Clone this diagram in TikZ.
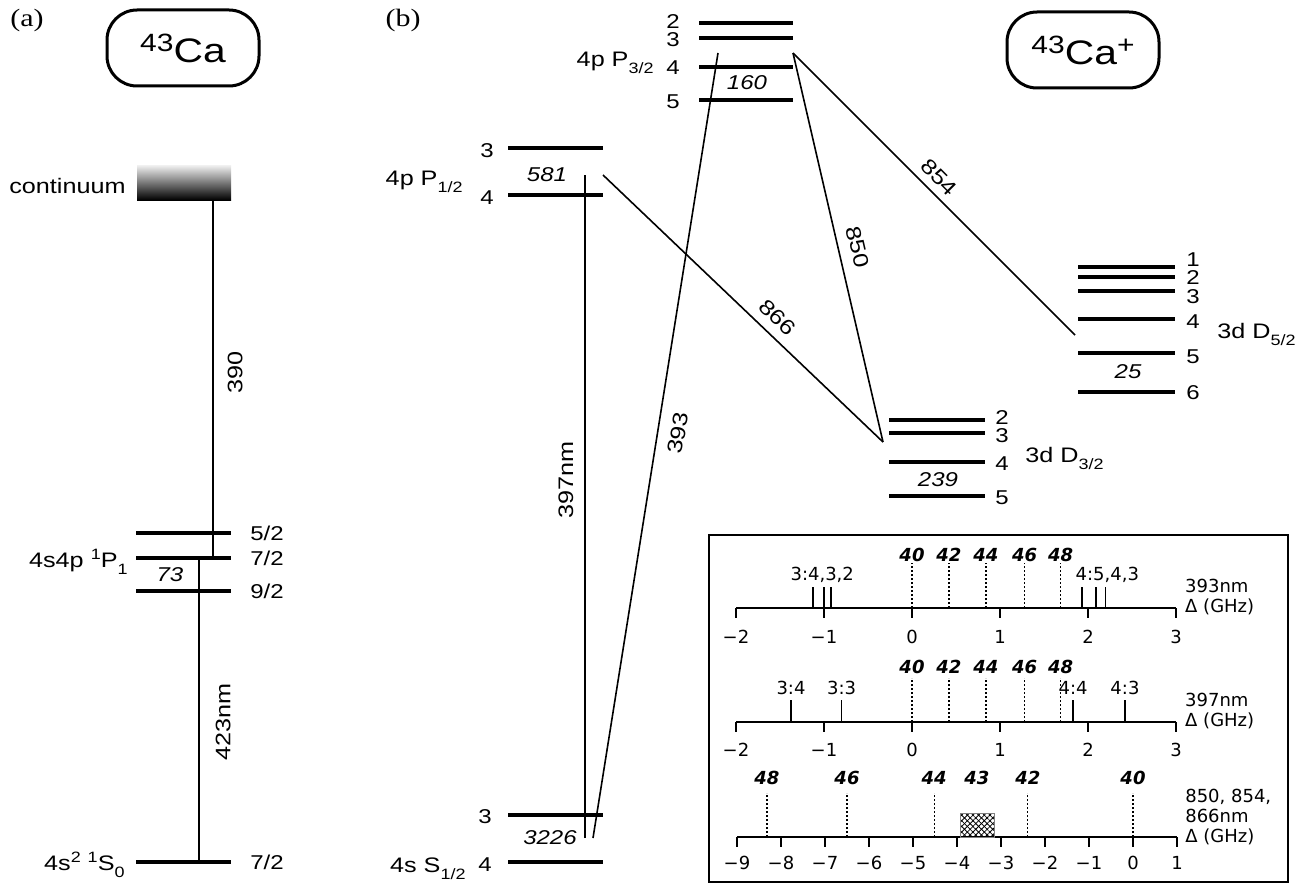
\documentclass[tikz,border=0pt]{standalone}
\usepackage{fontspec}
\setmainfont{Liberation Sans}[FakeStretch=1.2]
\newfontfamily\panelfont{Liberation Serif}[FakeStretch=1.2]
\newfontfamily\insetfont{DejaVu Sans}
\usetikzlibrary{patterns.meta}
\newcommand\lsub[1]{\raisebox{-3.5pt}{\fontsize{7.5}{8}\selectfont #1}}
\newcommand\lsup[1]{\raisebox{4pt}{\fontsize{7.5}{8}\selectfont #1}}
\newcommand\isotope[1]{\raisebox{5.5pt}{\fontsize{12.5}{13}\selectfont #1}}

\begin{document}
\begin{tikzpicture}[x=0.5pt,y=-0.5pt,
        level/.style={line width=2pt},
        trans/.style={line width=0.8pt},
        flab/.style={font=\fontsize{10}{11}\selectfont,inner sep=0pt},
        term/.style={font=\fontsize{10.5}{12}\selectfont,inner sep=0pt},
        hfs/.style={font=\fontsize{10}{12}\selectfont\itshape,inner sep=0pt},
        species/.style={draw,line width=1.5pt,rounded corners=15pt,minimum width=76pt,
            minimum height=38pt,inner sep=0pt,font=\fontsize{17}{19}\selectfont},
        panel/.style={font=\panelfont\fontsize{12.5}{14}\selectfont,inner sep=0pt},
        tick/.style={line width=0.8pt},
        iso/.style={line width=0.6pt,dash pattern=on 1.2pt off 0.8pt},
        isolab/.style={font=\insetfont\fontsize{9}{10}\selectfont\bfseries\itshape,inner sep=0pt},
        inlab/.style={font=\insetfont\fontsize{9}{10}\selectfont,inner sep=0pt,align=left}]
    \useasboundingbox (0,0) rectangle (1307,883);

    % (a) neutral atom
    \node[panel] (pa) at (27,20) {(a)};
    \node[species] (ca) at (183,48) {\isotope{43}Ca};
    \node[inner sep=0pt,minimum width=47pt,minimum height=17pt,
        top color=black!8,bottom color=black] (cont) at (184,183) {};
    \node[term,anchor=east] (contlab) at (126,186) {continuum};
    \foreach \y in {533,558,591,862} \draw[level] (136,\y) -- (231,\y);
    \foreach \y/\f [count=\i] in {533/{5/2},558/{7/2},591/{9/2},862/{7/2}}
        \node[flab,anchor=west] (fa\i) at (250,\y) {\f};
    \node[term,anchor=base east] (p1) at (128,567) {4s4p \lsup{1}P\lsub{1}};
    \node[hfs] (hfa) at (170,575) {73};
    \node[term,anchor=base east] (s0) at (125,870) {4s\lsup{2} \lsup{1}S\lsub{0}};
    \coordinate (c390) at (213,558);
    \coordinate (c423t) at (199,558);
    \coordinate (c423b) at (199,862);
    \draw[trans] (c390) -- node[term,sloped,below=7pt,pos=0.52] (l390) {390} (c390 |- cont.south);
    \draw[trans] (c423b) -- node[term,sloped,below=8pt,pos=0.46] (l423) {423nm} (c423t);

    % (b) ion
    \node[panel] (pb) at (403,20) {(b)};
    \node[species] (caplus) at (1083,50) {\isotope{43}Ca\isotope{+}};
    \foreach \y in {23,38,67,100} \draw[level] (699,\y) -- (793,\y);
    \foreach \y/\f in {22/2,40/3,68/4,102/5} \node[flab] (p32-\f) at (673,\y) {\f};
    \node[term,anchor=base east] (p32) at (654,67) {4p P\lsub{3/2}};
    \node[hfs] (hfp32) at (747,83) {160};
    \foreach \y in {148,195} \draw[level] (508,\y) -- (603,\y);
    \foreach \y/\f in {151/3,198/4} \node[flab] (p12-\f) at (487,\y) {\f};
    \node[term,anchor=base east] (p12) at (463,185) {4p P\lsub{1/2}};
    \node[hfs] (hfp12) at (547,175) {581};
    \foreach \y in {815,862} \draw[level] (508,\y) -- (603,\y);
    \foreach \y/\f in {817/3,865/4} \node[flab] (s12-\f) at (485,\y) {\f};
    \node[term,anchor=base east] (s12) at (466,872) {4s S\lsub{1/2}};
    \node[hfs] (hfs12) at (550,838) {3226};
    \foreach \y in {420,433,462,496} \draw[level] (889,\y) -- (985,\y);
    \foreach \y/\f in {418/2,436/3,464/4,498/5} \node[flab] (d32-\f) at (1002,\y) {\f};
    \node[term,anchor=base west] (d32) at (1025,462) {3d D\lsub{3/2}};
    \node[hfs] (hfd32) at (938,480) {239};
    \foreach \y in {267,277,291,319,353,392} \draw[level] (1078,\y) -- (1175,\y);
    \foreach \y/\f in {260/1,278/2,297/3,322/4,357/5,393/6} \node[flab] (d52-\f) at (1193,\y) {\f};
    \node[term,anchor=base west] (d52) at (1217,338) {3d D\lsub{5/2}};
    \node[hfs] (hfd52) at (1128,372) {25};

    \coordinate (s397) at (585,838);
    \coordinate (p397) at (585,175);
    \coordinate (s393) at (593,838);
    \coordinate (p393) at (718,53);
    \coordinate (p866) at (603,175);
    \coordinate (d866) at (883,442);
    \coordinate (p850) at (793,53);
    \coordinate (d854) at (1075,335);
    \draw[trans] (s397) -- node[term,sloped,above=5.5pt,pos=0.54] (l397) {397nm} (p397);
    \draw[trans] (s393) -- node[term,sloped,below=6pt,pos=0.52] (l393) {393} (p393);
    \draw[trans] (p866) -- node[term,sloped,above=4.5pt,pos=0.58] (l866) {866} (d866);
    \draw[trans] (p850) -- node[term,sloped,above=5.5pt,pos=0.51] (l850) {850} (d866);
    \draw[trans] (p850) -- node[term,sloped,above=3.5pt,pos=0.48] (l854) {854} (d854);

    % detunings
    \draw[line width=1pt] (709,535) rectangle (1288,882);
    \begin{scope}[shift={(912,608)},x=44pt]
        \draw[tick] (-2,0) -- (3,0);
        \foreach \t/\s in {-2/−2,-1/−1,0/0,1/1,2/2,3/3} {
            \draw[tick] (\t,0) -- (\t,10);
            \node[inlab] (r1-\t) at (\t,29) {\s};
        }
        \foreach \g in {-1.125,-1,-0.92,1.93,2.09,2.2} \draw[tick] (\g,0) -- (\g,-21);
        \node[inlab] (r1a) at (-1.02,-33) {3:4,3,2};
        \node[inlab] (r1b) at (2.22,-33) {4:5,4,3};
        \foreach \g/\m in {0/40,0.42/42,0.84/44,1.28/46,1.69/48} {
            \draw[iso] (\g,0) -- (\g,-45);
            \node[isolab] (r1-\m) at (\g,-53) {\m};
        }
        \node[inlab,anchor=west] (r1c) at (3.1,-11) {393nm\\Δ (GHz)};
    \end{scope}
    \begin{scope}[shift={(912,722)},x=44pt]
        \draw[tick] (-2,0) -- (3,0);
        \foreach \t/\s in {-2/−2,-1/−1,0/0,1/1,2/2,3/3} {
            \draw[tick] (\t,0) -- (\t,10);
            \node[inlab] (r2-\t) at (\t,28) {\s};
        }
        \foreach \g/\l in {-1.375/3:4,-0.8/3:3,1.83/4:4,2.42/4:3} {
            \draw[tick] (\g,0) -- (\g,-22);
            \node[inlab] (r2-\l) at (\g,-34) {\l};
        }
        \foreach \g/\m in {0/40,0.42/42,0.84/44,1.28/46,1.69/48} {
            \draw[iso] (\g,0) -- (\g,-44);
            \node[isolab] (r2-\m) at (\g,-55) {\m};
        }
        \node[inlab,anchor=west] (r2c) at (3.1,-11) {397nm\\Δ (GHz)};
    \end{scope}
    \begin{scope}[shift={(1133,837)},x=22pt]
        \draw[tick] (-9,0) -- (1,0);
        \foreach \t/\s in {-9/−9,-8/−8,-7/−7,-6/−6,-5/−5,-4/−4,-3/−3,-2/−2,-1/−1,0/0,1/1} {
            \draw[tick] (\t,0) -- (\t,10);
            \node[inlab] (r3-\t) at (\t,26) {\s};
        }
        \fill[pattern={Lines[angle=45,distance=2pt,line width=0.4pt]}] (-3.93,0) rectangle (-3.14,-24);
        \fill[pattern={Lines[angle=-45,distance=2pt,line width=0.4pt]}] (-3.93,0) rectangle (-3.14,-24);
        \draw[gray,line width=0.4pt] (-3.93,0) rectangle (-3.14,-24);
        \node[isolab] (r3-43) at (-3.55,-59) {43};
        \foreach \g/\m in {-8.32/48,-6.5/46,-4.52/44,-2.39/42,0/40} {
            \draw[iso] (\g,0) -- (\g,-44);
            \node[isolab] (r3-\m) at (\g,-59) {\m};
        }
        \node[inlab,anchor=west] (r3c) at (1.18,-20) {850, 854,\\866nm\\Δ (GHz)};
    \end{scope}
\end{tikzpicture}
\end{document}
